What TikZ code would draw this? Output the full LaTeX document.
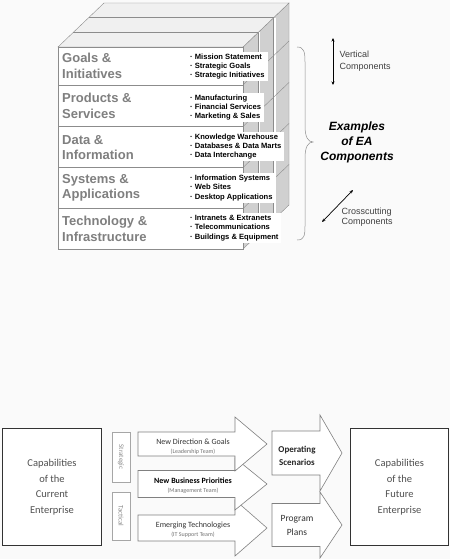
\documentclass[tikz,border=0pt]{standalone}
\usepackage{fontspec}
\setmainfont{Liberation Sans}
\newfontfamily\carl{Carlito}
\usetikzlibrary{arrows.meta}
\definecolor{bgc}{HTML}{FAFAFA}
\definecolor{edge}{HTML}{8C8C8C}
\definecolor{sidec}{HTML}{D0D0D0}
\definecolor{topc}{HTML}{F0F0F0}
\definecolor{lblc}{HTML}{7F7F7F}
\definecolor{boxtext}{HTML}{505050}
\newcommand\barrow[6]{\filldraw[arrowshape] (#1,#4-#5) -- (#2,#4-#5) -- (#2,#4-#6) -- (#3,#4) -- (#2,#4+#6) -- (#2,#4+#5) -- (#1,#4+#5) -- cycle;}
\begin{document}
\begin{tikzpicture}[x=1pt,y=-1pt,
  rowlbl/.style={anchor=west, inner sep=0pt, align=left, text=lblc, font=\bfseries\fontsize{13}{15.5}\selectfont},
  bul/.style={anchor=west, fill=white, inner xsep=3pt, inner ysep=2pt, align=left, font=\bfseries\fontsize{7.6}{9.4}\selectfont},
  note/.style={anchor=west, inner sep=0pt, align=left, text=black!75},
  dbl/.style={{Stealth[length=3.5pt,width=3pt]}-{Stealth[length=3.5pt,width=3pt]}, line width=0.7pt},
  capbox/.style={draw=black!80, line width=1.5pt, fill=white, align=center, text=boxtext, font=\carl\fontsize{10.5}{15.6}\selectfont},
  tab/.style={draw=black!35, fill=white, inner sep=0pt, text=black!45, font=\carl\fontsize{7}{8}\selectfont},
  arrowshape/.style={fill=white, draw=black!50, line width=0.6pt},
  atext/.style={inner sep=0pt, text=black!80, font=\carl\fontsize{8}{10}\selectfont},
  asub/.style={inner sep=0pt, text=black!55, font=\carl\fontsize{6}{8}\selectfont}]
\useasboundingbox (0,0) rectangle (450,559);
\fill[bgc] (0,0) rectangle (450,559);

% ---- cube: right side
\filldraw[fill=sidec, draw=edge] (243,47) -- (289,3) -- (289,205) -- (243,249) -- cycle;
\foreach \k in {1,2} {
  \draw[white, line width=1.6pt] (243+46*\k/3+1.2, 47-44*\k/3) -- (243+46*\k/3+1.2, 249-44*\k/3);
  \draw[edge] (243+46*\k/3, 47-44*\k/3) -- (243+46*\k/3, 249-44*\k/3);
}
\foreach \y in {85,126.5,167.5,208.5} \draw[edge] (243,\y) -- (289,\y-44);
% ---- cube: top
\filldraw[fill=topc, draw=edge] (58,47) -- (243,47) -- (289,3) -- (104,3) -- cycle;
\foreach \k in {1,2} \draw[edge] (58+46*\k/3, 47-44*\k/3) -- (243+46*\k/3, 47-44*\k/3);
% ---- cube: front rows
\filldraw[fill=white, draw=edge] (58,47) rectangle (243,85);
\filldraw[fill=white, draw=edge] (58,85) rectangle (243,126.5);
\filldraw[fill=white, draw=edge] (58,126.5) rectangle (243,167.5);
\filldraw[fill=white, draw=edge] (58,167.5) rectangle (243,208.5);
\filldraw[fill=white, draw=edge] (58,208.5) rectangle (243,249);

\node[rowlbl] (l1) at (62,66) {Goals \&\\Initiatives};
\node[rowlbl] (l2) at (62,106) {Products \&\\Services};
\node[rowlbl] (l3) at (62,147.5) {Data \&\\Information};
\node[rowlbl] (l4) at (62,188) {Systems \&\\Applications};
\node[rowlbl] (l5) at (62,229) {Technology \&\\Infrastructure};

\node[bul] (b1) at (187,66.5) {· Mission Statement\\· Strategic Goals\\· Strategic Initiatives};
\node[bul] (b2) at (187,107.5) {· Manufacturing\\· Financial Services\\· Marketing \& Sales};
\node[bul] (b3) at (187,146.5) {· Knowledge Warehouse\\· Databases \& Data Marts\\· Data Interchange};
\node[bul] (b4) at (187,188) {· Information Systems\\· Web Sites\\· Desktop Applications};
\node[bul] (b5) at (187,228) {· Intranets \& Extranets\\· Telecommunications\\· Buildings \& Equipment};

% ---- annotations
\draw[edge, line width=0.5pt] (297,47) .. controls (304,47) and (305,52) .. (305,62) -- (305,126)
  .. controls (305,137) and (308,142) .. (313,142) .. controls (308,142) and (305,147) .. (305,158)
  -- (305,226) .. controls (305,236) and (304,240) .. (297,240);
\coordinate (va) at (333,38); \coordinate (vb) at (333,85);
\draw[dbl] (va) -- (vb);
\node[note, font=\fontsize{9}{11.7}\selectfont] (vt) at (339.5,61) {Vertical\\Components};
\node[align=center, inner sep=0pt, font=\bfseries\itshape\fontsize{12}{15}\selectfont] (ex) at (357,142) {Examples\\of EA\\Components};
\coordinate (ca) at (322,222); \coordinate (cb) at (353,190);
\draw[dbl] (ca) -- (cb);
\node[note, font=\fontsize{9}{10.3}\selectfont] (ct) at (341.5,217) {Crosscutting\\Components};

% ---- bottom diagram
\node[capbox, minimum width=99pt, minimum height=117pt] (cur) at (52,487) {Capabilities\\of the\\Current\\Enterprise};
\node[capbox, minimum width=98pt, minimum height=117pt] (fut) at (399.5,487) {Capabilities\\of the\\Future\\Enterprise};

\node[tab, rotate=-90, minimum width=50pt, minimum height=18pt] (st) at (121,457) {Strategic};
\node[tab, rotate=-90, minimum width=48pt, minimum height=18pt] (ta) at (121,516) {Tactical};

\barrow{138}{235}{267}{528}{13}{28}
\barrow{138}{235}{267}{484}{13.5}{26}
\barrow{138}{235}{267}{444}{12}{27}
\barrow{272}{320}{342}{525}{21.5}{33}
\barrow{272}{320}{342}{453}{22}{38}

\node[atext] (t1) at (193,442) {New Direction \& Goals};
\node[asub] (s1) at (193,452) {(Leadership Team)};
\node[atext, font=\carl\bfseries\fontsize{8}{10}\selectfont, text=black] (t2) at (193,481) {New Business Priorities};
\node[asub] (s2) at (193,491) {(Management Team)};
\node[atext] (t3) at (193,525) {Emerging Technologies};
\node[asub] (s3) at (193,535) {(IT Support Team)};

\node[align=center, inner sep=0pt, text=black!85, font=\carl\bfseries\fontsize{9}{13}\selectfont] (op) at (297,456) {Operating\\Scenarios};
\node[align=center, inner sep=0pt, text=black!80, font=\carl\fontsize{9.5}{14}\selectfont] (pp) at (297,525) {Program\\Plans};
\end{tikzpicture}
\end{document}
